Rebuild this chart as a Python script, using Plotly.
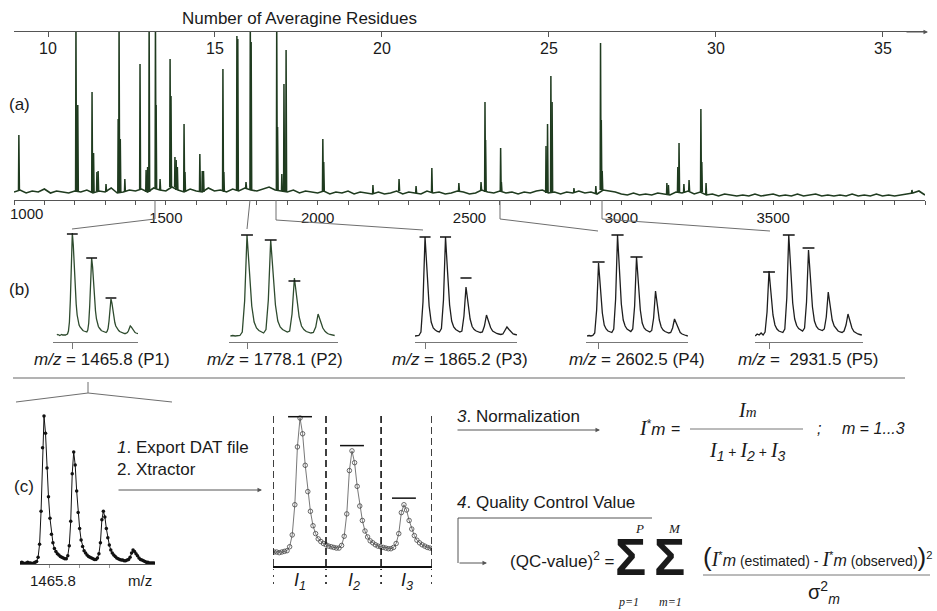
import plotly.graph_objects as go

W, H = 937, 611
SANS = "Liberation Sans, Arial, sans-serif"
SERIF = "Liberation Serif, Times New Roman, serif"
INK = "#1a1a1a"
GREEN = "#1f3b1f"
INSET_GREEN = "#2e4b2e"
GREY = "#6e6e6e"

# ---------------- data ----------------
# (a) MALDI spectrum: baseline samples every 20 m/z from 1000, and peak apexes
BASE_MZ0 = 1000
BASE_STEP = 20
BASELINE = [
    8, 10, 7, 9, 8, 11, 7, 9, 8, 7,
    9, 8, 10, 7, 9, 8, 12, 7, 8, 10,
    9, 11, 8, 12, 10, 9, 13, 10, 8, 11,
    9, 8, 12, 9, 10, 8, 11, 9, 12, 10,
    9, 11, 13, 10, 9, 8, 10, 7, 9, 8,
    7, 9, 6, 8, 7, 9, 6, 8, 7, 6,
    8, 6, 7, 9, 6, 8, 7, 6, 9, 7,
    8, 6, 7, 9, 8, 6, 7, 10, 8, 7,
    9, 7, 8, 6, 8, 7, 9, 10, 7, 8,
    6, 8, 7, 9, 7, 8, 6, 10, 9, 8,
    6, 5, 7, 5, 6, 5, 7, 6, 5, 8,
    7, 9, 6, 8, 5, 6, 4, 6, 5, 4,
    5, 4, 6, 4, 5, 6, 4, 5, 4, 6,
    4, 5, 6, 4, 5, 4, 5, 4, 6, 4,
    5, 4, 6, 4, 5, 4, 5, 6, 7, 9,
    5,
]
PEAK_MZ = [1016, 1204, 1210, 1257, 1262, 1273, 1277, 1303, 1343, 1346, 1350, 1365,
           1415, 1435, 1440, 1445, 1465.8, 1468, 1481, 1514, 1517, 1530, 1534, 1538,
           1560, 1563, 1612, 1620, 1624, 1688, 1691, 1734, 1737, 1764, 1778.1, 1781,
           1865.2, 1868, 1882, 1889, 1896, 2017, 2020, 2182, 2268, 2324, 2376, 2465,
           2538, 2551, 2553, 2602.5, 2605, 2752, 2757, 2768, 2772, 2844, 2916, 2931.5,
           2934, 2937, 3150, 3155, 3186, 3190, 3206, 3223, 3262, 3265, 3279, 3957]
PEAK_INT = [65, 180, 95, 108, 47, 28, 29, 16, 81, 180, 61, 21,
            136, 30, 33, 180, 180, 95, 21, 141, 104, 43, 40, 33,
            76, 28, 46, 29, 29, 131, 28, 164, 161, 18, 180, 158,
            180, 73, 26, 116, 150, 61, 38, 15, 21, 14, 32, 17,
            18, 98, 60, 52, 18, 54, 76, 124, 98, 12, 14, 157,
            80, 29, 17, 15, 33, 57, 16, 20, 91, 38, 17, 10]
MZ_TICKS = list(range(1000, 4001, 100))
MZ_LABELED = [1500, 2000, 2500, 3000, 3500]
RESIDUE_TICKS = [10, 15, 20, 25, 30, 35]

# (b) isotope clusters (profile intensities on a regular m/z grid)
P1_MZ0, P1_STEP, P1_MONO = 1465.0, 0.05, 1465.8
P1_INT = [
    7, 7.5, 7, 6.5, 7, 7.5, 7, 7, 6.5, 7,
    7.5, 8, 11, 20, 43, 87, 109, 97, 73, 53,
    38, 27, 21, 17, 15, 13.5, 12.5, 11.5, 11, 10.5,
    10, 10, 12, 19, 36, 69, 84, 75, 57, 42,
    31, 23, 18.5, 15.5, 14, 12.5, 11.5, 11, 10.5, 10,
    9.5, 9.5, 10.5, 13.5, 21, 37, 43, 39, 31, 24.5,
    19.5, 16, 14, 12.5, 11.5, 10.5, 10, 9.5, 9, 9,
    8.5, 8.5, 9, 9.5, 11, 14, 16, 15, 13.5, 12,
    10.5, 9.5, 9, 8.5, 8, 7.5, 7.5, 7, 7, 7,
    7,
]
P1_BARS = [108, 84, 44]

P2_MZ0, P2_STEP, P2_MONO = 1777.4, 0.1, 1778.1
P2_INT = [
    6, 6.5, 6, 6, 6.5, 10, 41, 107, 72, 36,
    20, 14, 11.5, 10, 9, 12.5, 42, 102, 70, 37,
    21, 15, 12.5, 11, 10, 11, 28, 64, 44, 25,
    16, 12.5, 10.5, 9.5, 9, 9.5, 15, 28, 21, 14,
    10.5, 8.5, 7.5, 7, 6.5,
]
P2_BARS = [107, 102, 61]

P3_MZ0, P3_STEP, P3_MONO = 1864.7, 0.1, 1865.2
P3_INT = [
    6, 6, 6.5, 10, 40, 105, 70, 36, 20, 14,
    12, 10.5, 10, 13.5, 42, 105, 70, 37, 21, 15,
    12.5, 11, 10, 11, 26, 55, 39, 23, 15.5, 12.5,
    11, 10, 9.5, 10, 16, 27, 21, 14.5, 11, 9.5,
    8.5, 8, 7.5, 8, 11, 15, 12.5, 10, 8, 7.5,
    7,
]
P3_BARS = [105, 105, 64]

P4_MZ0, P4_STEP, P4_MONO = 2601.9, 0.1, 2602.5
P4_INT = [
    6, 6.5, 6, 6.5, 9, 32, 79, 54, 29, 17,
    13, 11, 10, 9.5, 13, 43, 107, 73, 38, 22,
    16, 13, 11.5, 10.5, 13, 36, 85, 59, 32, 19,
    14, 12, 11, 10, 11.5, 24, 51, 37, 22, 15,
    12, 10.5, 9.5, 9, 9.5, 14, 23, 18, 12.5, 9.5,
    8, 7, 6.5, 6,
]
P4_BARS = [80, 107, 85]

P5_MZ0, P5_STEP, P5_MONO = 2930.8, 0.1, 2931.5
P5_INT = [
    6, 8, 7, 9, 7, 10, 30, 71, 49, 27,
    17, 13, 11, 10, 9.5, 13, 44, 107, 74, 39,
    23, 16.5, 13.5, 12, 11, 14, 40, 92, 64, 35,
    21, 15.5, 13, 12, 11.5, 13, 25, 50, 36, 22,
    16, 13, 11, 10, 9.5, 11, 17, 28, 21, 14,
    10.5, 9, 8, 7.5, 7,
]
P5_BARS = [70, 107, 94]

# (c) Xtractor integration windows and theoretical bars (P1 cluster)
XT_BOUNDS = [1465.28, 1466.30, 1467.36, 1468.34]
XT_BARS = [110, 88, 48]


# ---------------- helpers ----------------
def fx(x):
    return x / W


def fy(y):
    return 1 - y / H


def grid(mz0, step, vals):
    return [round(mz0 + step * i, 4) for i in range(len(vals))]


def bar_segments(mono, vals, hw):
    xs, ys = [], []
    for k, v in enumerate(vals):
        c = mono + k
        xs += [c - hw, c + hw, None]
        ys += [v, v, None]
    return xs, ys


fig = go.Figure()

# ---- (a) main spectrum ----
fig.add_trace(go.Scatter(x=grid(BASE_MZ0, BASE_STEP, BASELINE), y=BASELINE, mode="lines",
                         line=dict(color=GREEN, width=1.6), xaxis="x", yaxis="y", hoverinfo="skip"))
sx, sy = [], []
for m, h in zip(PEAK_MZ, PEAK_INT):
    b = BASELINE[min(len(BASELINE) - 1, int(round((m - BASE_MZ0) / BASE_STEP)))]
    sx += [m - 1.2, m, m + 1.8, None]
    sy += [b, h, b, None]
fig.add_trace(go.Scatter(x=sx, y=sy, mode="lines", line=dict(color=GREEN, width=1.5),
                         xaxis="x", yaxis="y", hoverinfo="skip"))
# anchor trace for averagine axis
fig.add_trace(go.Scatter(x=[20], y=[-50], mode="markers", marker=dict(opacity=0),
                         xaxis="x2", yaxis="y", hoverinfo="skip"))

# ---- (b) insets ----
insets = [
    (P1_MZ0, P1_STEP, P1_INT, P1_MONO, P1_BARS, INSET_GREEN, (53, 138), (1464.80, 1469.20), 0.28),
    (P2_MZ0, P2_STEP, P2_INT, P2_MONO, P2_BARS, INSET_GREEN, (229, 338), (1777.34, 1781.94), 0.25),
    (P3_MZ0, P3_STEP, P3_INT, P3_MONO, P3_BARS, "#1e1e1e", (415, 517), (1864.71, 1869.69), 0.27),
    (P4_MZ0, P4_STEP, P4_INT, P4_MONO, P4_BARS, "#1e1e1e", (586, 688), (2601.84, 2607.21), 0.32),
    (P5_MZ0, P5_STEP, P5_INT, P5_MONO, P5_BARS, "#1e1e1e", (755, 863), (2930.79, 2936.26), 0.30),
]
layout_axes = {}
for i, (mz0, step, vals, mono, bars, col, dom, rng, hw) in enumerate(insets):
    k = i + 3
    fig.add_trace(go.Scatter(x=grid(mz0, step, vals), y=vals, mode="lines",
                             line=dict(color=col, width=1.3), xaxis=f"x{k}", yaxis=f"y{k}",
                             hoverinfo="skip"))
    bx, by = bar_segments(mono, bars, hw)
    fig.add_trace(go.Scatter(x=bx, y=by, mode="lines", line=dict(color="#111", width=1.5),
                             xaxis=f"x{k}", yaxis=f"y{k}", hoverinfo="skip"))
    layout_axes[f"xaxis{k}"] = dict(domain=[fx(dom[0]), fx(dom[1])], range=list(rng), anchor=f"y{k}",
                                    showline=True, linecolor="#777", linewidth=1, ticks="outside",
                                    tickvals=[mono], ticklen=6, tickcolor="#777", tickwidth=1,
                                    showticklabels=False, showgrid=False, zeroline=False)
    layout_axes[f"yaxis{k}"] = dict(domain=[fy(342), fy(228)], range=[0, 114], visible=False,
                                    anchor=f"x{k}")

# ---- (c) left: exported profile (P1) ----
fig.add_trace(go.Scatter(x=grid(P1_MZ0, P1_STEP, P1_INT), y=P1_INT, mode="lines+markers",
                         line=dict(color="#111", width=1),
                         marker=dict(size=3.5, color="#111"),
                         xaxis="x8", yaxis="y8", hoverinfo="skip"))
layout_axes["xaxis8"] = dict(domain=[fx(20), fx(155)], range=[1464.99, 1469.54], anchor="y8",
                             showline=True, linecolor="#555", linewidth=1, ticks="outside",
                             tickvals=[1466, 1467, 1468], ticklen=3, tickcolor="#999",
                             showticklabels=False, showgrid=False, zeroline=False)
layout_axes["yaxis8"] = dict(domain=[fy(564), fy(410)], range=[6.3, 113.2], visible=False, anchor="x8")

# ---- (c) middle: Xtractor ----
fig.add_trace(go.Scatter(x=grid(P1_MZ0, P1_STEP, P1_INT), y=P1_INT, mode="lines+markers",
                         line=dict(color="#555", width=0.8),
                         marker=dict(symbol="circle-open", size=4.5, color="#444", line=dict(width=0.8)),
                         xaxis="x9", yaxis="y9", hoverinfo="skip"))
bx, by = bar_segments(P1_MONO, XT_BARS, 0.23)
fig.add_trace(go.Scatter(x=bx, y=by, mode="lines", line=dict(color="#111", width=1.5),
                         xaxis="x9", yaxis="y9", hoverinfo="skip"))
layout_axes["xaxis9"] = dict(domain=[fx(273), fx(432)], range=[XT_BOUNDS[0], XT_BOUNDS[-1]], anchor="y9",
                             showline=True, linecolor="#111", linewidth=2, ticks="",
                             showticklabels=False, showgrid=False, zeroline=False)
layout_axes["yaxis9"] = dict(domain=[fy(566), fy(410)], range=[-3.65, 115.1], visible=False, anchor="x9")

# ---------------- shapes ----------------
shapes = []


def seg(x0, y0, x1, y1, color=GREY, width=1, dash=None):
    d = dict(type="line", xref="paper", yref="paper", x0=fx(x0), y0=fy(y0), x1=fx(x1), y1=fy(y1),
             line=dict(color=color, width=width))
    if dash:
        d["line"]["dash"] = dash
    return d


def poly(pts, color=GREY, width=1):
    p = "M " + " L ".join(f"{fx(a):.5f},{fy(b):.5f}" for a, b in pts)
    return dict(type="path", xref="paper", yref="paper", path=p, line=dict(color=color, width=width))


# connectors from (a) to (b)
shapes.append(poly([(155, 200), (155, 219), (72, 229)]))
shapes.append(poly([(250, 200), (247, 229)]))
shapes.append(poly([(276, 200), (276, 220), (423, 230)]))
shapes.append(poly([(500, 200), (500, 219), (598, 231)]))
shapes.append(poly([(602, 200), (602, 219), (770, 231)]))
# separator
shapes.append(seg(13, 378, 905, 378, color="#9a9a9a", width=1.5))
# tent connector in (c)
shapes.append(poly([(88, 382), (88, 393)]))
shapes.append(poly([(16, 402), (88, 393), (172, 402)]))
# Xtractor integration windows
for b in XT_BOUNDS:
    shapes.append(dict(type="line", xref="x9", yref="paper", x0=b, x1=b, y0=fy(566), y1=fy(412),
                       line=dict(color="#111", width=1.6, dash="7px,4px")))
    shapes.append(dict(type="line", xref="x9", yref="paper", x0=b, x1=b, y0=fy(584), y1=fy(569),
                       line=dict(color="#111", width=1.6, dash="2px,5px")))
# fraction lines
shapes.append(seg(690, 429, 803, 429, color="#777", width=1))
shapes.append(seg(703, 575, 930, 575, color="#777", width=1))
# QC flow line
shapes.append(seg(458, 518, 652, 518, color="#555", width=1))
shapes.append(seg(458, 518, 458, 563, color="#555", width=1))

# ---------------- annotations ----------------
ann = []


def note(x, y, text, size=17, xanchor="center", family=SANS, color=INK, xref="paper"):
    return dict(x=fx(x) if xref == "paper" else x, y=fy(y), xref=xref, yref="paper", text=text,
                showarrow=False, xanchor=xanchor, yanchor="middle",
                font=dict(family=family, size=size, color=color))


def arrow(x0, y0, x1, y1, color="#555"):
    return dict(x=fx(x1), y=fy(y1), xref="paper", yref="paper", ax=x0 - x1, ay=y0 - y1,
                axref="pixel", ayref="pixel", text="", showarrow=True, arrowhead=2,
                arrowsize=0.9, arrowwidth=1, arrowcolor=color, standoff=0)


ann.append(note(299.5, 19, "Number of Averagine Residues"))
ann.append(arrow(905, 32, 928, 32, color="#555"))
ann.append(note(19, 104, "(a)"))
ann.append(note(19, 289, "(b)"))
ann.append(note(24, 487, "(c)"))
ann.append(note(26, 213, "1000", size=15))

ann.append(note(102, 359, "<i>m/z</i> = 1465.8 (P1)"))
ann.append(note(275, 359, "<i>m/z</i> = 1778.1 (P2)"))
ann.append(note(460, 359, "<i>m/z</i> = 1865.2 (P3)"))
ann.append(note(637, 359, "<i>m/z</i> = 2602.5 (P4)"))
ann.append(note(808, 359, "<i>m/z</i> =\u00a0 2931.5 (P5)"))

ann.append(note(52.5, 580, "1465.8", size=15))
ann.append(note(139.5, 580, "m/z", size=15))

ann.append(note(115, 447, "<i>1</i>. Export DAT file", xanchor="left"))
ann.append(note(115, 469, "2. Xtractor", xanchor="left"))
ann.append(arrow(117, 490, 262, 490))

for j in range(3):
    mid = (XT_BOUNDS[j] + XT_BOUNDS[j + 1]) / 2
    ann.append(note(mid, 581, f"<i>I<sub>{j + 1}</sub></i>", size=18, xref="x9"))

ann.append(note(455, 417, "<i>3</i>. Normalization", xanchor="left"))
ann.append(arrow(456, 430, 600, 430))
ann.append(note(637, 428, '<span style="font-family:Liberation Serif;font-size:20px"><i>I</i></span>'
                           '<sup>*</sup><i>m</i>', size=17, xanchor="left"))
ann.append(note(675, 428, "=", size=16))
ann.append(note(747, 410, '<i>I<span style="font-size:15px">m</span></i>', size=20, family=SERIF))
sub = '<sub><span style="font-family:Liberation Sans"><i>{}</i></span></sub>'
plus = '<span style="font-family:Liberation Sans;font-size:14px"> + </span>'
ann.append(note(747, 451, "<i>I</i>" + sub.format(1) + plus + "<i>I</i>" + sub.format(2) + plus +
                "<i>I</i>" + sub.format(3), size=20, family=SERIF))
ann.append(note(819, 428, "<i>;</i>", size=16))
ann.append(note(873, 428, "<i>m</i> = <i>1...3</i>", size=16))

ann.append(note(455, 502, "<i>4</i>. Quality Control Value", xanchor="left"))
ann.append(arrow(458, 563, 487, 563))
ann.append(note(508, 560, "(QC-value)<sup>2</sup> =", xanchor="left"))
ann.append(note(630, 557, "<b>\u03a3</b>", size=52))
ann.append(note(669, 557, "<b>\u03a3</b>", size=52))
ann.append(note(639, 528, "<i>P</i>", size=13, family=SERIF))
ann.append(note(674, 528, "<i>M</i>", size=13, family=SERIF))
ann.append(note(628, 602, "<i>p=1</i>", size=12, family=SERIF))
ann.append(note(670, 602, "<i>m=1</i>", size=12, family=SERIF))
big = '<span style="font-size:26px">{}</span>'
II = '<span style="font-family:Liberation Serif;font-size:20px"><i>I</i></span><sup>*</sup><i>m</i>'
small = '<span style="font-size:14px">{}</span>'
ann.append(note(817, 557, big.format("(") + II + small.format(" (estimated) - ") + II +
                small.format(" (observed)") + big.format(")") + "<sup>2</sup>", size=16))
ann.append(note(824, 592, "\u03c3<sup>2</sup><sub><i>m</i></sub>", size=20))

# ---------------- layout ----------------
ticktext = []
for t in MZ_TICKS:
    if t in MZ_LABELED:
        ticktext.append(str(t))
    elif t == MZ_TICKS[-1]:
        ticktext.append("m/z")
    else:
        ticktext.append("")

fig.update_layout(
    width=W, height=H, margin=dict(l=0, r=0, t=0, b=0),
    paper_bgcolor="white", plot_bgcolor="rgba(0,0,0,0)", showlegend=False,
    font=dict(family=SANS, color=INK),
    xaxis=dict(domain=[fx(14), fx(925)], range=[1000, 4000], anchor="y",
               showline=True, linecolor="#555", linewidth=1.2, ticks="outside", ticklen=4,
               tickcolor="#555", tickvals=MZ_TICKS, ticktext=ticktext,
               tickfont=dict(size=15, color=INK), showgrid=False, zeroline=False),
    xaxis2=dict(overlaying="x", side="top", anchor="y", range=[8.982, 36.26],
                tickvals=RESIDUE_TICKS, ticks="inside", ticklen=5, tickcolor="#555",
                ticklabelposition="inside", ticklabelstandoff=6, showline=True, linecolor="#555",
                linewidth=1.2, tickfont=dict(size=16, color=INK), showgrid=False, zeroline=False),
    yaxis=dict(domain=[fy(200), fy(32)], range=[0, 168], visible=False),
    shapes=shapes, annotations=ann,
    **layout_axes,
)

fig.write_html("out.html")
